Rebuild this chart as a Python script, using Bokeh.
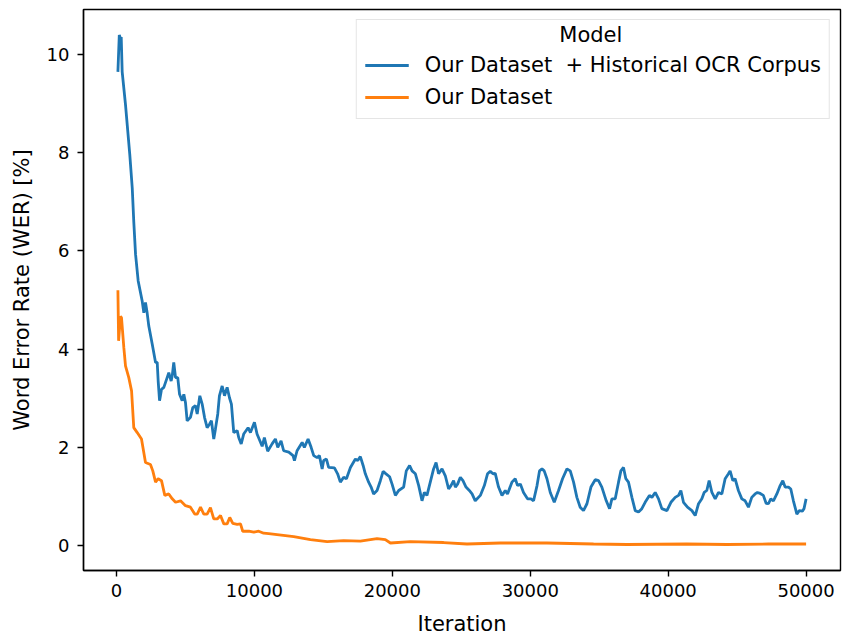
from bokeh.plotting import figure
from bokeh.models import Range1d, Legend, LegendItem, Label, SingleIntervalTicker
from bokeh.embed import file_html
from bokeh.resources import INLINE

# ---- data ----
blue_iter = [100, 200, 290, 340, 410, 650, 960, 1140, 1250, 1380, 1570, 1860, 1980, 2100, 2220,
             2340, 2590, 2830, 2950, 3020, 3120, 3260, 3430, 3670, 3790, 3960, 4040, 4150, 4280,
             4440, 4570, 4760, 4880, 5000, 5120, 5360, 5530, 5720, 5850, 6040, 6210, 6380, 6570,
             6740, 6880, 7050, 7170, 7340, 7460, 7660, 7830, 8020, 8190, 8330, 8500, 8750, 8860,
             9040, 9220, 9540, 9710, 10000, 10190, 10560, 10720, 10960, 11280, 11520, 11690,
             11930, 12120, 12490, 12800, 12900, 13090, 13460, 13620, 13890, 14110, 14300, 14540,
             14710, 14910, 15020, 15220, 15380, 15800, 16030, 16230, 16470, 16670, 16960, 17320,
             17490, 17680, 17880, 18040, 18280, 18460, 18640, 18890, 19130, 19330, 19540, 19800,
             19980, 20220, 20460, 20820, 21010, 21250, 21430, 21670, 21910, 22150, 22320, 22510,
             22750, 22990, 23170, 23350, 23600, 23840, 24080, 24250, 24440, 24570, 24730, 24930,
             25120, 25340, 25580, 25780, 26010, 26380, 26670, 26900, 27100, 27300, 27460, 27700,
             27950, 28190, 28350, 28670, 28910, 29080, 29280, 29510, 29800, 30050, 30240, 30490,
             30670, 30850, 31010, 31210, 31450, 31740, 32050, 32340, 32660, 32900, 33140, 33380,
             33620, 33860, 34110, 34400, 34710, 34950, 35190, 35510, 35750, 35920, 36160, 36400,
             36570, 36760, 36930, 37120, 37370, 37610, 37850, 38090, 38330, 38640, 38820, 39060,
             39300, 39540, 39910, 40200, 40510, 40750, 40920, 41110, 41400, 41720, 41960, 42200,
             42440, 42610, 42800, 42970, 43170, 43410, 43650, 43890, 44130, 44370, 44490, 44690,
             44850, 45090, 45340, 45580, 45820, 46060, 46300, 46470, 46670, 46900, 47100, 47270,
             47440, 47630, 47880, 48120, 48310, 48480, 48720, 48890, 49080, 49330, 49510, 49730,
             49850, 50000]
blue_wer = [9.65, 10.40, 10.33, 10.36, 9.65, 8.98, 7.97, 7.28, 6.60, 5.93, 5.39, 4.98, 4.74, 4.95, 4.74,
            4.47, 4.10, 3.73, 3.73, 3.35, 2.95, 3.18, 3.22, 3.42, 3.52, 3.35, 3.46, 3.73, 3.42,
            3.42, 3.08, 2.95, 3.08, 2.91, 2.54, 2.61, 2.81, 2.85, 2.68, 3.05, 2.88, 2.61, 2.40,
            2.47, 2.54, 2.17, 2.37, 2.68, 3.05, 3.25, 3.05, 3.22, 3.01, 2.88, 2.30, 2.34, 2.20,
            2.07, 2.27, 2.40, 2.30, 2.51, 2.27, 2.02, 2.20, 1.92, 2.07, 2.17, 2.00,
            2.13, 1.93, 1.90, 1.83, 1.73, 1.93, 2.10, 2.00, 2.17, 2.00, 1.83, 1.79,
            1.83, 1.56, 1.73, 1.76, 1.59, 1.58, 1.46, 1.29, 1.39, 1.36, 1.59, 1.76,
            1.73, 1.81, 1.63, 1.46, 1.29, 1.19, 1.05, 1.12, 1.32, 1.51, 1.46, 1.40,
            1.25, 1.02, 1.12, 1.19, 1.52, 1.63, 1.52, 1.46, 1.22, 0.91, 1.08, 1.02,
            1.29, 1.56, 1.69, 1.46, 1.56, 1.42, 1.15, 1.22, 1.32, 1.19, 1.25, 1.39,
            1.32, 1.19, 1.12, 1.05, 0.91, 1.02, 1.22, 1.46, 1.51, 1.46, 1.47, 1.19,
            1.02, 1.12, 1.05, 1.29, 1.36, 1.22, 1.25, 1.08, 0.95, 0.95, 0.91, 1.22,
            1.52, 1.56, 1.52, 1.36, 1.08, 0.88, 1.12, 1.36, 1.56, 1.52, 1.29, 0.98,
            0.78, 0.71, 0.85, 1.19, 1.34, 1.32, 1.19, 0.91, 0.75, 0.95, 0.95, 1.29,
            1.52, 1.59, 1.36, 1.29, 0.98, 0.71, 0.68, 0.75, 0.88, 1.02, 0.98, 1.08,
            0.95, 0.75, 0.71, 0.88, 0.98, 1.02, 1.12, 0.88, 0.78, 0.71, 0.61, 0.85,
            0.95, 1.08, 1.12, 1.32, 1.08, 0.95, 1.08, 1.05, 1.36, 1.46, 1.52, 1.32,
            1.36, 1.12, 0.95, 0.91, 0.78, 0.98, 1.05, 1.08, 1.06, 1.02, 0.86, 0.85,
            0.95, 0.91, 1.05, 1.22, 1.32, 1.19, 1.19, 1.15, 0.91, 0.64, 0.71, 0.70,
            0.75, 0.95]

orange_iter = [100, 150, 290, 360, 530, 650, 890, 1090, 1250, 1500, 1810, 2100, 2460, 2630, 2830,
               3020, 3260, 3500, 3790, 4040, 4280, 4640, 5000, 5360, 5670, 5850, 6090, 6330, 6570,
               6810, 7050, 7300, 7540, 7780, 8020, 8210, 8430, 8750, 8990, 9150, 9590, 9950, 10310,
               10670, 11040, 11640, 12850, 14060, 15270, 16470, 17680, 18890, 19490, 19860, 21300,
               23720, 25410, 27830, 31210, 34590, 37010, 41350, 44250, 47270, 50000]
orange_wer = [5.20, 4.17, 4.67, 4.64, 4.03, 3.66, 3.42, 3.15, 2.40, 2.30, 2.17, 1.69, 1.65, 1.52, 1.29,
              1.36, 1.32, 1.02, 1.05, 0.95, 0.88, 0.91, 0.81, 0.78, 0.64, 0.64, 0.78, 0.64, 0.64,
              0.77, 0.54, 0.54, 0.61, 0.44, 0.44, 0.57, 0.45, 0.43, 0.44, 0.29, 0.29, 0.27, 0.29,
              0.25, 0.24, 0.22, 0.18, 0.12, 0.08, 0.10, 0.09, 0.14, 0.12, 0.05, 0.08,
              0.06, 0.03, 0.05, 0.05, 0.03, 0.02, 0.03, 0.02, 0.03, 0.03]

series_names = ["Our Dataset  + Historical OCR Corpus", "Our Dataset"]
legend_title = "Model"
x_label = "Iteration"
y_label = "Word Error Rate (WER) [%]"

FONT = "DejaVu Sans"
BLUE = "#1f77b4"
ORANGE = "#ff7f0e"

p = figure(width=843, height=639, output_backend="svg", toolbar_location=None,
           x_range=Range1d(-2395, 52495), y_range=Range1d(-0.51, 10.92),
           min_border_left=83, min_border_right=3, min_border_top=9, min_border_bottom=69)

p.xgrid.visible = False
p.ygrid.visible = False
p.outline_line_color = "black"
p.outline_line_width = 1.4
p.background_fill_color = "white"
p.border_fill_color = "white"

r1 = p.line(blue_iter, blue_wer, line_color=BLUE, line_width=2.8)
r2 = p.line(orange_iter, orange_wer, line_color=ORANGE, line_width=2.8)

p.xaxis.ticker = SingleIntervalTicker(interval=10000)
p.yaxis.ticker = SingleIntervalTicker(interval=2)

for ax in (p.xaxis[0], p.yaxis[0]):
    ax.axis_line_width = 1.4
    ax.major_tick_line_width = 1.4
    ax.major_tick_out = 6
    ax.major_tick_in = 0
    ax.minor_tick_out = 0
    ax.minor_tick_in = 0
    ax.major_label_text_font = FONT
    ax.major_label_text_font_size = "18px"
    ax.major_label_text_color = "black"
    ax.axis_label_text_font = FONT
    ax.axis_label_text_font_size = "21px"
    ax.axis_label_text_font_style = "normal"
    ax.axis_label_text_color = "black"

p.xaxis.axis_label = x_label
p.yaxis.axis_label = y_label
p.xaxis.major_label_standoff = 7
p.yaxis.major_label_standoff = 8
p.xaxis.axis_label_standoff = 12
p.yaxis.axis_label_standoff = 10

legend = Legend(items=[LegendItem(label=series_names[0], renderers=[r1]),
                       LegendItem(label=series_names[1], renderers=[r2])],
                location="top_right", margin=10,
                title=legend_title, title_text_alpha=0.0,
                title_text_font=FONT, title_text_font_size="21px", title_standoff=0,
                label_text_font=FONT, label_text_font_size="21px", label_text_color="black",
                label_height=26, glyph_height=26, glyph_width=44, label_standoff=16,
                spacing=6, padding=8,
                border_line_color="#cccccc", border_line_width=1.2,
                background_fill_color="white", background_fill_alpha=0.0)
p.add_layout(legend)

p.add_layout(Label(x=34390, y=10.40, text=legend_title, text_align="center",
                   text_baseline="middle", text_font=FONT, text_font_size="21px",
                   text_color="black", level="overlay"))

open("out.html", "w").write(file_html(p, INLINE))
